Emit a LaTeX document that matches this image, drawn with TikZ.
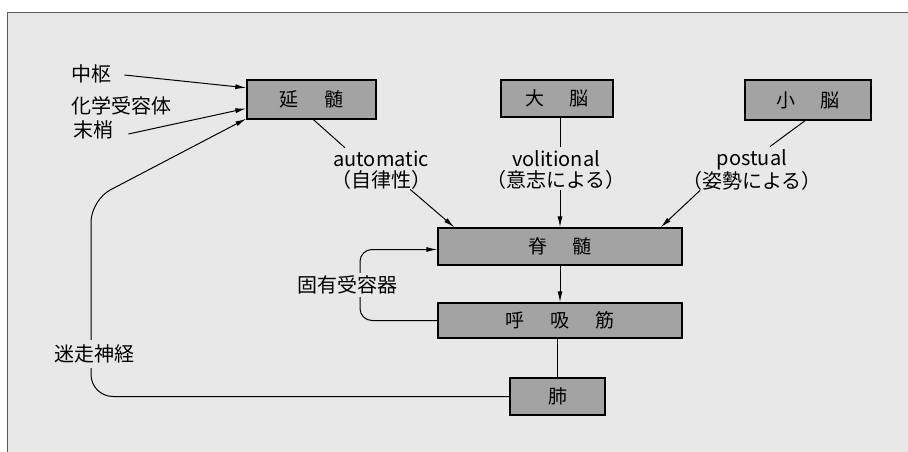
\documentclass[tikz,border=0pt]{standalone}
\usepackage{fontspec}
\setmainfont{Noto Sans CJK JP}
\usetikzlibrary{arrows.meta,calc}
\definecolor{bgcol}{gray}{0.91}
\definecolor{boxcol}{gray}{0.64}
\tikzset{
  organ/.style={draw=black,line width=1.4pt,fill=boxcol,inner sep=0pt,anchor=center},
  lbl/.style={inner sep=1pt,font=\fontsize{20}{21}\selectfont},
  conn/.style={line width=1pt,black},
  arr/.style={conn,-{Latex[length=11pt,width=5pt]}},
  bxfont/.style={font=\fontsize{19}{21}\selectfont}
}
\newcommand{\gp}{\hspace{1.35em}}
\begin{document}
\begin{tikzpicture}[x=1pt,y=-1pt]
\useasboundingbox (0,0) rectangle (908,452);
\fill[white] (0,0) rectangle (908,452);
\fill[bgcol] (7,12) rectangle (908,452);
\draw[gray!70!black,line width=0.8pt] (7,452) -- (7,12) -- (908,12);

% boxes
\node[organ,bxfont,minimum width=129pt,minimum height=39pt] (medulla) at (311.5,99.5) {延\gp 髄};
\node[organ,bxfont,minimum width=112pt,minimum height=37pt] (cerebrum) at (557,98.5) {大\gp 脳};
\node[organ,bxfont,minimum width=126pt,minimum height=40pt] (cerebellum) at (808,100) {小\gp 脳};
\node[organ,bxfont,minimum width=244pt,minimum height=37pt] (spine) at (560,246.5) {脊\gp 髄};
\node[organ,bxfont,minimum width=244pt,minimum height=35pt] (resp) at (560,320.5) {呼\gp 吸\gp 筋};
\node[organ,bxfont,minimum width=95pt,minimum height=37pt] (lung) at (557.5,396.5) {肺};

% left inputs
\node[lbl,anchor=west] (chusu) at (70,74) {中枢};
\node[lbl,anchor=west] (chem) at (70,106) {化学受容体};
\node[lbl,anchor=west] (massho) at (72,130) {末梢};
\coordinate (inA) at ($(medulla.north west)!0.21!(medulla.south west)$);
\coordinate (inB) at ($(medulla.north west)!0.72!(medulla.south west)$);
\draw[arr] ([xshift=12pt,yshift=-1pt]chusu.east) -- (inA);
\draw[arr] ([xshift=14pt,yshift=-4pt]massho.east) -- (inB);

% descending labels
\node[lbl,align=center] (auto) at (381,170) {automatic\\（自律性）};
\node[lbl,align=center] (vol) at (556,170) {volitional\\（意志による）};
\node[lbl,align=center] (post) at (752,170) {postual\\（姿勢による）};

\draw[conn] ([xshift=2pt]medulla.south) -- ([xshift=15pt,yshift=2pt]auto.north west);
\draw[arr] ([xshift=-22pt,yshift=1pt]auto.south east) -- ([xshift=17pt]spine.north west);

\draw[conn] ([xshift=3pt]cerebrum.south) -- ([xshift=3pt,yshift=2pt]cerebrum.south |- vol.north);
\draw[arr] ([xshift=3pt,yshift=1pt]cerebrum.south |- vol.south) -- ([xshift=3pt]cerebrum.south |- spine.north);

\draw[conn] ([xshift=-3pt]cerebellum.south) -- ([xshift=18pt,yshift=2pt]post.north);
\draw[arr] ([xshift=-52pt,yshift=1pt]post.south) -- ([xshift=-22pt]spine.north east);

% spine -> resp -> lung
\draw[arr] (spine.south) -- (resp.north);
\draw[conn] ([xshift=-3pt]resp.south) -- ([xshift=-0.5pt]lung.north);

% proprioceptor loop
\coordinate (loopx) at (360,0);
\draw[arr,rounded corners=12pt] (resp.west) -- (resp.west -| loopx) -- ([yshift=-3pt]spine.west -| loopx) -- ([yshift=-3pt]spine.west);
\node[lbl,fill=bgcol,inner sep=3pt,anchor=east] (prop) at (401,285) {固有受容器};

% vagus
\coordinate (vx) at (91,200);
\draw[arr,rounded corners=22pt] (lung.west) -- (lung.west -| vx) -- (vx) -- ([yshift=1pt]medulla.south west);
\node[lbl,fill=bgcol,inner sep=0pt,minimum height=28pt] (vagus) at (94,354) {迷走神経};
\end{tikzpicture}
\end{document}
